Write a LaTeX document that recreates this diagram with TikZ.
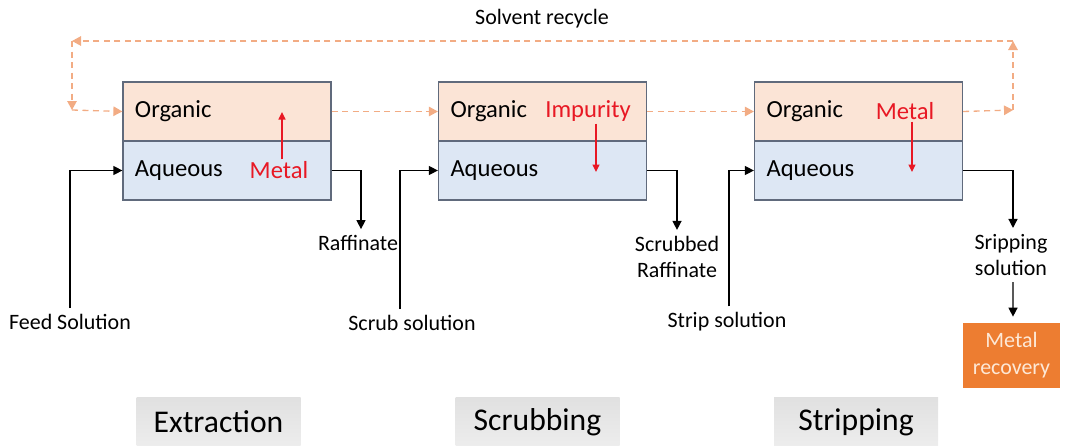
\documentclass[tikz,border=0pt]{standalone}
\usepackage{fontspec}
\setmainfont{Carlito}
\usepackage{tikz}
\usetikzlibrary{positioning,calc,arrows.meta}

\definecolor{orgfill}{RGB}{251,228,214}
\definecolor{aqfill}{RGB}{221,231,244}
\definecolor{boxline}{RGB}{96,106,124}
\definecolor{recycol}{RGB}{242,172,132}
\definecolor{recovfill}{RGB}{237,125,49}
\definecolor{recovtext}{RGB}{253,232,214}
\definecolor{metred}{RGB}{232,24,36}

\begin{document}
\begin{tikzpicture}[x=0.2mm, y=-0.2mm,
    every node/.style={font=\fontsize{12.5}{15}\selectfont},
    phase/.style={draw=boxline, line width=0.7pt, minimum width=4.16cm, minimum height=1.18cm,
        text width=3.68cm, align=left, inner xsep=0.24cm, font=\fontsize{14}{17}\selectfont},
    orgbox/.style={phase, fill=orgfill},
    aqbox/.style={phase, fill=aqfill},
    species/.style={text=metred, font=\fontsize{14}{17}\selectfont, inner sep=1pt},
    redarr/.style={draw=metred, line width=0.8pt, -{Triangle[length=1.5mm,width=1.4mm]}},
    flow/.style={draw=black, line width=0.75pt, -{Triangle[length=1.8mm,width=1.8mm]}},
    recyc/.style={draw=recycol, line width=0.75pt, dash pattern=on 1.2mm off 0.9mm,
        -{Triangle[length=1.8mm,width=1.9mm]}},
    stagebox/.style={minimum width=3.28cm, minimum height=1.0cm, top color=gray!24,
        middle color=gray!4, bottom color=gray!14, font=\fontsize{18}{21}\selectfont},
    recovbox/.style={fill=recovfill, text=recovtext, minimum width=1.94cm, minimum height=1.3cm,
        align=center, font=\fontsize{12.5}{15.5}\selectfont}]

\useasboundingbox (0,0) rectangle (1065,445);

% mixer-settler stages
\node[orgbox] (org1) at (227,111.5) {Organic};
\node[aqbox] (aq1) at (227,170.5) {Aqueous};
\node[orgbox] (org2) at (542.5,111.5) {Organic};
\node[aqbox] (aq2) at (542.5,170.5) {Aqueous};
\node[orgbox] (org3) at (858.5,111.5) {Organic};
\node[aqbox] (aq3) at (858.5,170.5) {Aqueous};

% what moves between the phases
\node[species] (met1) at (279,170) {Metal};
\node[species] (imp2) at (588,111) {Impurity};
\node[species] (met3) at (905,111) {Metal};
\coordinate (m1top) at (282,112);
\coordinate (i2bot) at (596,172);
\coordinate (m3bot) at (912,172);
\draw[redarr] (met1.north -| m1top) -- (m1top);
\draw[redarr] (imp2.south -| i2bot) -- (i2bot);
\draw[redarr] (met3.south -| m3bot) -- (m3bot);

% solvent recycle (dashed)
\node (recyc) at (542,19) {Solvent recycle};
\coordinate (rcTL) at (72,41);
\coordinate (rcBL) at (72,110);
\coordinate (rcTR) at (1013,41);
\coordinate (rcBR) at (1013,110);
\draw[recyc] (org1.east) -- (org2.west);
\draw[recyc] (org2.east) -- (org3.west);
\draw[recyc] (org3.east) -- (rcBR);
\draw[recyc] (rcBR) -- (rcTR);
\draw[recyc] (rcTR) -- (rcTL);
\draw[recyc] (rcTL) -- (rcBL);
\draw[recyc] (rcBL) -- (org1.west);

% aqueous in and out
\node (feed) at (70,322) {Feed Solution};
\node (raff) at (358,243) {Raffinate};
\node (scrub) at (412,323) {Scrub solution};
\node[align=center] (scraff) at (677,257) {Scrubbed\\Raffinate};
\node (strip) at (727,322) {Strip solution};
\node[align=center] (strsol) at (1011,255) {Sripping\\solution};
\node[recovbox] (recov) at (1011.5,355.5) {Metal\\recovery};

\draw[flow] (feed.north) |- (aq1.west);
\draw[flow] (aq1.east) -| ([xshift=0.06cm]raff.north);
\draw[flow] ([xshift=-0.24cm]scrub.north) |- (aq2.west);
\draw[flow] (aq2.east) -| (scraff.north);
\draw[flow] ([xshift=0.04cm]strip.north) |- (aq3.west);
\draw[flow] (aq3.east) -| ([xshift=0.04cm]strsol.north);
\draw[flow] ([xshift=0.04cm]strsol.south) -- ([xshift=0.03cm,yshift=0.12cm]recov.north);

% stage names
\node[stagebox] (extr) at (218.5,422) {Extraction};
\node[stagebox] (scrb) at (537.5,422) {Scrubbing};
\node[stagebox] (strp) at (856,422) {Stripping};
\end{tikzpicture}
\end{document}
